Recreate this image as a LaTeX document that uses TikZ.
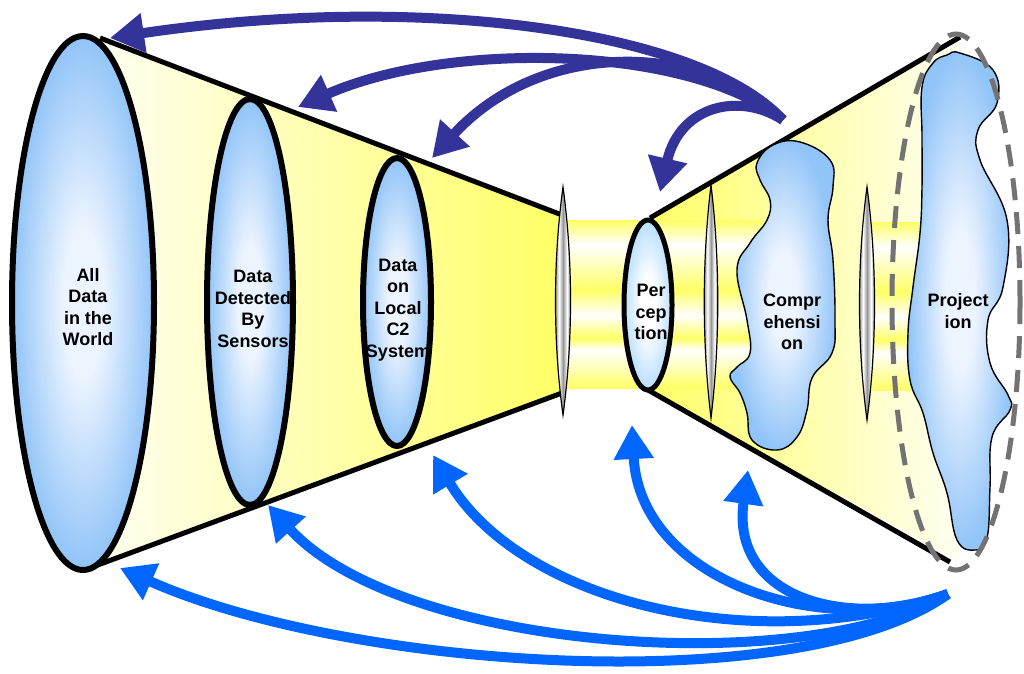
\documentclass[tikz,border=0pt]{standalone}
\usepackage{fontspec}
\setmainfont{Liberation Sans}
\newfontfamily\lblfont{Liberation Sans Bold}
\usetikzlibrary{arrows.meta}
\definecolor{Y}{RGB}{255,255,102}
\definecolor{paleY}{RGB}{255,255,242}
\definecolor{W}{RGB}{255,255,255}
\definecolor{blueE}{RGB}{145,196,248}
\definecolor{blueC}{RGB}{236,244,255}
\definecolor{perE}{RGB}{185,222,255}
\definecolor{darkA}{RGB}{51,51,153}
\definecolor{brightA}{RGB}{0,102,255}
\definecolor{dashG}{RGB}{115,115,115}
\definecolor{lensG}{RGB}{85,85,85}
\definecolor{lensM}{RGB}{150,150,150}
\pgfdeclareverticalshading{bands}{100bp}{color(0bp)=(Y); color(25bp)=(Y); color(36.3bp)=(W); color(39.9bp)=(Y); color(46.7bp)=(W); color(54.2bp)=(Y); color(67.6bp)=(W); color(75bp)=(Y); color(100bp)=(Y)}
\pgfdeclareradialshading{bluesh}{\pgfpoint{0bp}{0bp}}{color(0bp)=(blueC); color(7bp)=(blueC); color(25bp)=(blueE); color(50bp)=(blueE)}
\pgfdeclareradialshading{persh}{\pgfpoint{0bp}{0bp}}{color(0bp)=(W); color(8bp)=(W); color(25bp)=(perE); color(50bp)=(perE)}
\pgfdeclarehorizontalshading{lensh}{100bp}{color(0bp)=(lensG); color(25bp)=(lensG); color(40bp)=(W); color(50bp)=(lensM); color(60bp)=(W); color(75bp)=(lensG); color(100bp)=(lensG)}
\begin{document}
\begin{tikzpicture}[x=1pt,y=-1pt,
  lbl/.style={font=\lblfont\fontsize{18}{21.5}\selectfont, align=center, inner sep=0pt},
  funnelline/.style={line width=5pt},
  rim/.style={draw=black, line width=6pt, shade, shading=bluesh},
  lensbox/.style={draw=black, line width=1.2pt, shade, shading=lensh},
  blob/.style={draw=black, line width=1.4pt, shade, shading=bluesh},
  topar/.style={draw=darkA, line width=10pt, -{Triangle[length=34pt,width=38pt]}},
  botar/.style={draw=brightA, line width=10pt, -{Triangle[length=34pt,width=38pt]}},
  bandbox/.style={shade, shading=bands}
]
\useasboundingbox (0,0) rectangle (1024,673);
% funnel corners
\coordinate (lt1) at (100,38);
\coordinate (lt2) at (562,215);
\coordinate (lb1) at (95,566);
\coordinate (lb2) at (562,393);
\coordinate (rt1) at (650,218);
\coordinate (rt2) at (960,37);
\coordinate (rb1) at (648,390);
\coordinate (rb2) at (950,562);
% funnel fills
\shade[left color=paleY, right color=Y] (lt1) -- (lt2) -- (lb2) -- (lb1) -- cycle;
\shade[left color=Y, right color=paleY] (rt1) -- (rt2) -- (960,562) -- (rb1) -- cycle;
% light bands
\path[bandbox] (562,220) rectangle (765,388);
\path[bandbox] (872,222) rectangle (925,390);
% funnel edges
\draw[funnelline] (lt1) -- (lt2);
\draw[funnelline] (lb1) -- (lb2);
\draw[funnelline] (rt1) -- (rt2);
\draw[funnelline] (rb1) -- (rb2);
% ellipses
\path[rim] (83,303) ellipse [x radius=71pt, y radius=267pt];
\path[rim] (250,302) ellipse [x radius=43pt, y radius=203pt];
\path[rim] (397,302) ellipse [x radius=34pt, y radius=144pt];
\path[draw=black, line width=5pt, shade, shading=persh] (648,305) ellipse [x radius=24pt, y radius=85pt];
% lenses
\path[lensbox] (563,187) .. controls (573,260) and (573,342) .. (563,415) .. controls (553,342) and (553,260) .. (563,187) -- cycle;
\path[lensbox] (711,185) .. controls (720,260) and (720,343) .. (711,418) .. controls (702,343) and (702,260) .. (711,185) -- cycle;
\path[lensbox] (867,187) .. controls (877,262) and (877,345) .. (867,420) .. controls (857,345) and (857,262) .. (867,187) -- cycle;
% comprehension blob
\path[blob] plot[smooth cycle, tension=0.7] coordinates {
 (800,142) (830,160) (833,187) (828,220) (833,260) (835,320) (832,353) (812,378)
 (807,410) (797,437) (777,450) (752,440) (747,413) (740,393) (730,377) (737,367)
 (750,353) (747,320) (737,270) (750,243) (767,220) (770,200) (760,180) (757,163) (773,145)};
% projection blob
\path[blob] plot[smooth cycle, tension=0.7] coordinates {
 (960,53) (993,70) (997,103) (978,130) (980,160) (1007,220) (1003,287) (988,320)
 (990,363) (1008,395) (1010,410) (992,437) (990,487) (987,538) (975,550) (957,540)
 (947,493) (933,453) (923,413) (910,380) (908,333) (913,287) (920,233) (922,187)
 (922,137) (922,87) (933,63) (947,55)};
% dashed boundary
\draw[dashG, line width=5pt, dash pattern=on 22pt off 12pt] (956,302) ellipse [x radius=64pt, y radius=268pt];
% labels
\node[lbl] (all) at (88,307) {All\\Data\\in the\\World};
\node[lbl] (det) at (253,309) {Data\\Detected\\By\\Sensors};
\node[lbl] (loc) at (398,310) {Data\\on\\Local\\C2\\System};
\node[lbl] (per) at (651,312) {Per\\cep\\tion};
\node[lbl] (com) at (792,322) {Compr\\ehensi\\on};
\node[lbl] (pro) at (958,311) {Project\\ion};
% top arrows
\coordinate (tsrc) at (783,120);
\coordinate (tA) at (110,38);
\coordinate (tB) at (298,107);
\coordinate (tC) at (432,158);
\coordinate (tD) at (660,192);
\draw[topar] (tsrc) .. controls (700,30) and (420,-8) .. (tA);
\draw[topar] (tsrc) .. controls (690,45) and (450,40) .. (tB);
\draw[topar] (tsrc) .. controls (700,40) and (540,40) .. (tC);
\draw[topar] (tsrc) .. controls (740,92) and (680,105) .. (tD);
% bottom arrows
\coordinate (bsrc) at (948,594);
\coordinate (bE) at (120,568);
\coordinate (bF) at (268,505);
\coordinate (bG) at (433,455);
\coordinate (bH) at (632,425);
\coordinate (bI) at (748,470);
\draw[botar] (bsrc) .. controls (800,700) and (350,670) .. (bE);
\draw[botar] (bsrc) .. controls (800,680) and (400,650) .. (bF);
\draw[botar] (bsrc) .. controls (750,660) and (520,600) .. (bG);
\draw[botar] (bsrc) .. controls (820,640) and (640,580) .. (bH);
\draw[botar] (bsrc) .. controls (850,630) and (730,600) .. (bI);
\end{tikzpicture}
\end{document}
